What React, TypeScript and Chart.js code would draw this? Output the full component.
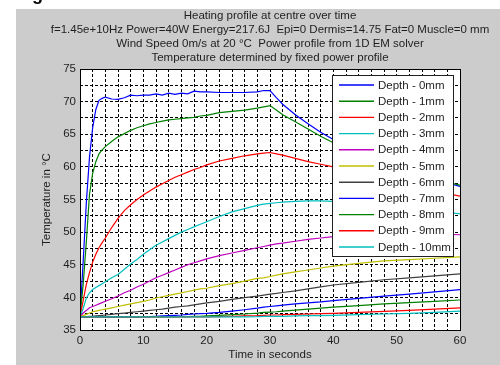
import React, { useEffect, useRef } from 'react';
import { Chart, registerables } from 'chart.js';

Chart.register(...registerables);

const FONT = '"Liberation Sans", Arial, sans-serif';
const TEXT = '#1e1e1e';
const PANEL = '#cccccc';

const titleLines = [
  'Heating profile at centre over time',
  'f=1.45e+10Hz Power=40W Energy=217.6J  Epi=0 Dermis=14.75 Fat=0 Muscle=0 mm',
  'Wind Speed 0m/s at 20 °C  Power profile from 1D EM solver',
  'Temperature determined by fixed power profile',
];
const xLabel = 'Time in seconds';
const yLabel = 'Temperature in °C';

// Sample times in seconds (power on for the first 30 s)
const times = [
  0, 0.5, 1, 1.5, 2, 2.5, 3, 3.5, 4,
  5, 6, 7, 8, 9, 10, 11, 12, 13, 14, 15, 16, 17, 18, 19, 20,
  22, 24, 26, 28, 29, 30, 31, 32,
  34, 36, 38, 40,
  44, 48, 52, 56, 60,
];

// Temperature (°C) at each depth below the surface
const depth0 = [
  37.0, 45.5, 54.5, 61.5, 66.0, 68.8, 70.2, 70.5, 70.7,
  70.4, 70.35, 70.6, 71.0, 70.9, 71.0, 71.0, 71.2, 71.0, 71.3, 71.1, 71.3, 71.2, 71.6, 71.5, 71.5,
  71.4, 71.4, 71.4, 71.5, 71.7, 71.7, 70.6, 69.6,
  68.0, 66.6, 65.3, 64.2,
  62.3, 60.7, 59.3, 58.1, 57.0,
];
const depth1 = [
  37.0, 42.0, 48.5, 55.8, 59.0, 60.8, 62.0, 62.6, 63.1,
  63.9, 64.6, 65.1, 65.6, 66.0, 66.3, 66.6, 66.8, 67.0, 67.2, 67.3, 67.4, 67.5, 67.6, 67.8, 67.9,
  68.3, 68.5, 68.7, 69.0, 69.2, 69.4, 68.7, 68.0,
  66.9, 65.8, 64.7, 63.7,
  62.0, 60.5, 59.2, 58.1, 57.2,
];
const depth2 = [
  37.0, 39.5, 42.0, 43.8, 45.4, 46.6, 47.6, 48.4, 49.1,
  50.7, 52.1, 53.3, 54.2, 55.0, 55.7, 56.3, 56.9, 57.4, 57.9, 58.4, 58.8, 59.2, 59.6, 59.9, 60.3,
  60.9, 61.3, 61.7, 62.0, 62.1, 62.2, 62.0, 61.8,
  61.3, 60.8, 60.4, 60.0,
  59.0, 58.0, 57.2, 56.3, 55.5,
];
const depth3 = [
  37.0, 38.3, 39.9, 40.7, 41.2, 41.5, 41.8, 42.1, 42.4,
  43.0, 43.5, 44.3, 45.1, 45.8, 46.6, 47.3, 48.0, 48.5, 49.0, 49.5, 50.0, 50.4, 50.8, 51.2, 51.6,
  52.4, 53.1, 53.6, 54.1, 54.3, 54.4, 54.5, 54.6,
  54.7, 54.8, 54.8, 54.7,
  54.5, 54.1, 53.7, 53.3, 52.8,
];
const depth4 = [
  37.0, 37.6, 38.0, 38.4, 38.6, 38.8, 39.0, 39.2, 39.4,
  39.8, 40.2, 40.7, 41.1, 41.6, 42.0, 42.5, 43.0, 43.4, 43.8, 44.2, 44.6, 45.0, 45.3, 45.6, 45.9,
  46.4, 46.8, 47.2, 47.6, 47.8, 48.0, 48.2, 48.3,
  48.6, 48.9, 49.1, 49.3,
  49.5, 49.6, 49.7, 49.7, 49.6,
];
const depth5 = [
  37.0, 37.2, 37.4, 37.6, 37.8, 37.9, 38.0, 38.1, 38.2,
  38.4, 38.6, 38.8, 39.0, 39.2, 39.4, 39.6, 39.9, 40.1, 40.3, 40.5, 40.7, 40.9, 41.1, 41.3, 41.4,
  41.8, 42.1, 42.5, 42.9, 43.0, 43.2, 43.4, 43.6,
  43.9, 44.2, 44.5, 44.8,
  45.2, 45.6, 45.8, 46.0, 46.2,
];
const depth6 = [
  37.0, 37.0, 37.05, 37.1, 37.1, 37.15, 37.2, 37.25, 37.3,
  37.4, 37.5, 37.6, 37.7, 37.8, 37.9, 38.0, 38.1, 38.2, 38.35, 38.5, 38.6, 38.7, 38.85, 39.0, 39.15,
  39.4, 39.7, 39.95, 40.2, 40.35, 40.5, 40.6, 40.75,
  41.0, 41.3, 41.6, 41.9,
  42.3, 42.7, 43.0, 43.3, 43.6,
];
const depth7 = [
  37.0, 37.0, 37.0, 37.0, 37.0, 37.0, 37.0, 37.0, 37.0,
  37.0, 37.0, 37.0, 37.0, 37.0, 37.05, 37.05, 37.1, 37.15, 37.2, 37.25, 37.3, 37.4, 37.45, 37.5, 37.55,
  37.7, 37.9, 38.1, 38.35, 38.5, 38.6, 38.7, 38.8,
  39.0, 39.15, 39.3, 39.5,
  39.85, 40.2, 40.5, 40.85, 41.2,
];
const depth8 = [
  37.0, 37.0, 37.0, 37.0, 37.0, 37.0, 37.0, 37.0, 37.0,
  37.0, 37.0, 37.0, 37.0, 37.0, 37.0, 37.0, 37.0, 37.0, 37.0, 37.0, 37.05, 37.05, 37.1, 37.1, 37.15,
  37.25, 37.35, 37.45, 37.6, 37.7, 37.75, 37.8, 37.9,
  38.05, 38.2, 38.35, 38.5,
  38.75, 39.0, 39.2, 39.4, 39.6,
];
const depth9 = [
  37.0, 37.0, 37.0, 37.0, 37.0, 37.0, 37.0, 37.0, 37.0,
  37.0, 37.0, 37.0, 37.0, 37.0, 37.0, 37.0, 37.0, 37.0, 37.0, 37.0, 37.0, 37.0, 37.0, 37.0, 37.0,
  37.05, 37.1, 37.15, 37.2, 37.25, 37.3, 37.3, 37.35,
  37.4, 37.45, 37.5, 37.55,
  37.7, 37.85, 38.0, 38.2, 38.4,
];
const depth10 = [
  37.0, 37.0, 37.0, 37.0, 37.0, 37.0, 37.0, 37.0, 37.0,
  37.0, 37.0, 37.0, 37.0, 37.0, 37.0, 37.0, 37.0, 37.0, 37.0, 37.0, 37.0, 37.0, 37.0, 37.0, 37.0,
  37.0, 37.0, 37.0, 37.05, 37.1, 37.1, 37.1, 37.1,
  37.15, 37.2, 37.2, 37.25,
  37.35, 37.45, 37.55, 37.7, 37.9,
];

const seriesLabels = [
  'Depth - 0mm', 'Depth - 1mm', 'Depth - 2mm', 'Depth - 3mm', 'Depth - 4mm', 'Depth - 5mm',
  'Depth - 6mm', 'Depth - 7mm', 'Depth - 8mm', 'Depth - 9mm', 'Depth - 10mm',
];
const seriesColors = [
  '#0000ff', '#008000', '#ff0000', '#00bfbf', '#bf00bf', '#bfbf00',
  '#404040', '#0000ff', '#008000', '#ff0000', '#00bfbf',
];

const framePlugin = {
  id: 'frame',
  beforeDraw(chart: any) {
    const { ctx, chartArea: a, width, height } = chart;
    ctx.save();
    ctx.fillStyle = '#ffffff';
    ctx.fillRect(0, 0, width, height);
    ctx.fillStyle = PANEL;
    ctx.fillRect(16, 9, width - 16, height - 9);
    ctx.fillStyle = '#ffffff';
    ctx.fillRect(a.left, a.top, a.right - a.left, a.bottom - a.top);
    // tail of the heading above the figure
    ctx.fillStyle = '#000000';
    ctx.font = `bold 18px ${FONT}`;
    ctx.textBaseline = 'alphabetic';
    ctx.fillText('g', 32, 0);
    ctx.restore();
  },
  afterDatasetsDraw(chart: any) {
    const { ctx, chartArea: a } = chart;
    ctx.save();
    // axes box
    ctx.strokeStyle = '#000000';
    ctx.lineWidth = 1;
    ctx.setLineDash([]);
    ctx.strokeRect(Math.round(a.left) + 0.5, Math.round(a.top) + 0.5,
      Math.round(a.right - a.left), Math.round(a.bottom - a.top));

    // legend box
    const lx = 332.5, ly = 75.5, lw = 121, lh = 181;
    ctx.fillStyle = '#ffffff';
    ctx.fillRect(lx, ly, lw, lh);
    ctx.strokeStyle = '#202020';
    ctx.strokeRect(lx, ly, lw, lh);
    ctx.font = `11.5px ${FONT}`;
    ctx.textBaseline = 'middle';
    ctx.textAlign = 'left';
    seriesLabels.forEach((label, i) => {
      const y = 85 + i * 16.2;
      ctx.strokeStyle = seriesColors[i];
      ctx.lineWidth = 1.4;
      ctx.beginPath();
      ctx.moveTo(339, y);
      ctx.lineTo(374, y);
      ctx.stroke();
      ctx.fillStyle = TEXT;
      ctx.fillText(label, 378, y + 0.5);
    });
    ctx.restore();
  },
  afterDraw(chart: any) {
    const { ctx, chartArea: a } = chart;
    const cx = (a.left + a.right) / 2;
    ctx.save();
    ctx.fillStyle = TEXT;
    ctx.font = `11.5px ${FONT}`;
    ctx.textAlign = 'center';
    ctx.textBaseline = 'middle';
    titleLines.forEach((line, i) => ctx.fillText(line, cx, 15.5 + i * 14));
    ctx.fillText(xLabel, cx, 354.5);
    ctx.translate(47, (a.top + a.bottom) / 2);
    ctx.rotate(-Math.PI / 2);
    ctx.fillText(yLabel, 0, 0);
    ctx.restore();
  },
};

export default function App() {
  const ref = useRef<HTMLCanvasElement>(null);

  useEffect(() => {
    const canvas = ref.current;
    if (!canvas) return;
    const series = [depth0, depth1, depth2, depth3, depth4, depth5, depth6, depth7, depth8, depth9, depth10];
    const tickFont = { family: FONT, size: 11.5 };
    const chart = new Chart(canvas, {
      type: 'line',
      data: {
        datasets: series.map((vals, i) => ({
          label: seriesLabels[i],
          data: vals.map((v, j) => ({ x: times[j], y: v })),
          borderColor: seriesColors[i],
          backgroundColor: seriesColors[i],
          borderWidth: 1.2,
          pointRadius: 0,
          tension: 0,
          fill: false,
          order: series.length - i,
        })),
      },
      options: {
        responsive: false,
        animation: false,
        events: [],
        layout: { padding: { left: 0, top: 69, right: 40, bottom: 0 } },
        plugins: {
          legend: { display: false },
          title: { display: false },
          tooltip: { enabled: false },
        },
        scales: {
          x: {
            type: 'linear',
            min: 0,
            max: 60,
            afterFit: (s: any) => { s.height = 35; },
            ticks: {
              stepSize: 2,
              autoSkip: false,
              maxRotation: 0,
              padding: 4,
              color: TEXT,
              font: tickFont,
              callback: (v: any) => (Number(v) % 10 === 0 ? String(v) : ''),
            },
            grid: { color: '#000000', lineWidth: 1, drawTicks: false },
            border: { display: false, dash: [3, 2] },
          },
          y: {
            type: 'linear',
            min: 35,
            max: 75,
            afterFit: (s: any) => { s.width = 80; },
            ticks: {
              stepSize: 2.5,
              autoSkip: false,
              padding: 4,
              color: TEXT,
              font: tickFont,
              callback: (v: any) => (Number(v) % 5 === 0 ? String(v) : ''),
            },
            grid: { color: '#000000', lineWidth: 1, drawTicks: false },
            border: { display: false, dash: [3, 2] },
          },
        },
      } as any,
      plugins: [framePlugin],
    });
    return () => chart.destroy();
  }, []);

  return (
    <div style={{ position: 'fixed', left: 0, top: 0, width: 500, height: 365 }}>
      <canvas ref={ref} width={500} height={365} style={{ display: 'block', width: 500, height: 365 }} />
    </div>
  );
}
